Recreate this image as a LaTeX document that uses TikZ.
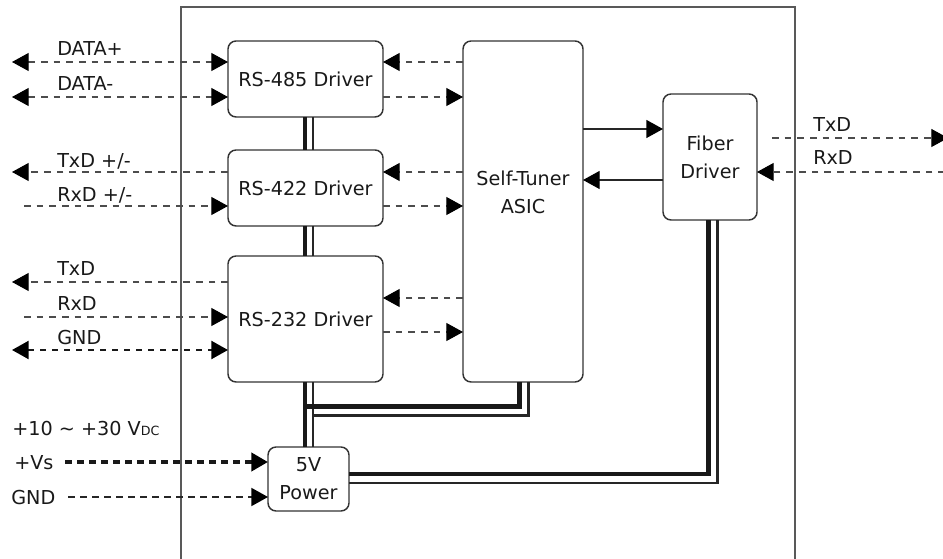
\documentclass[tikz,border=0pt]{standalone}
\usepackage{fontspec}
\setmainfont{DejaVu Sans}
\usetikzlibrary{arrows.meta}
\tikzset{
  bigT/.tip={Triangle[length=12.5pt,width=13.5pt,color=black]},
  box/.style={draw=black!80, line width=1.1pt, rounded corners=6pt, inner sep=0pt, outer sep=0pt, align=center, text=black!90},
  frame/.style={draw=black!65, line width=1.1pt},
  sig/.style={draw=black!70, line width=0.8pt, dash pattern=on 5pt off 4.5pt},
  sigmid/.style={draw=black!90, line width=1.7pt, dash pattern=on 4.5pt off 4.5pt},
  sigpow/.style={draw=black!90, line width=3pt, dash pattern=on 5pt off 4pt},
  siggnd/.style={draw=black!85, line width=1.4pt, dash pattern=on 5pt off 4pt},
  solidsig/.style={draw=black!85, line width=1pt},
  tr/.style={-bigT},
  tb/.style={bigT-bigT},
  pthick/.style={draw=black!90, line width=3.4pt, line join=miter},
  pthin/.style={draw=black!85, line width=1.6pt, line join=miter},
  lbl/.style={inner sep=0pt, text=black!90},
}
\begin{document}
\begin{tikzpicture}[x=0.75pt,y=-0.75pt,font=\fontsize{14.4}{21}\selectfont]
\useasboundingbox (0,0) rectangle (943,559);
% outer frame
\draw[frame] (181,565) -- (181,7) -- (795,7) -- (795,565);

% boxes
\node[box, minimum width=116.25pt, minimum height=57pt] (r485) at (305.5,79) {RS-485 Driver};
\node[box, minimum width=116.25pt, minimum height=57pt] (r422) at (305.5,188) {RS-422 Driver};
\node[box, minimum width=116.25pt, minimum height=94.5pt] (r232) at (305.5,319) {RS-232 Driver};
\node[box, minimum width=90pt, minimum height=255.75pt] (asic) at (523,211.5) {};
\node[lbl, align=center] (asictxt) at (523,192) {Self-Tuner\\ASIC};
\node[box, minimum width=70.5pt, minimum height=94.5pt] (fib) at (710,157) {Fiber\\Driver};
\node[box, minimum width=60.75pt, minimum height=48pt] (p5) at (308.5,479) {5V\\Power};

% coordinates
\coordinate (d1) at (12,62);
\coordinate (d2) at (12,97);
\coordinate (t4) at (12,172);
\coordinate (r4) at (24,206);
\coordinate (t2) at (12,282);
\coordinate (r2) at (24,317);
\coordinate (g2) at (12,350);
\coordinate (a1) at (0,298);
\coordinate (a2) at (0,332);
\coordinate (vs) at (65,462);
\coordinate (gp) at (68,497);
\coordinate (f1) at (0,129);
\coordinate (f2) at (0,180);
\coordinate (ts) at (772,138);
\coordinate (te) at (948,138);
\coordinate (rs) at (945,172);
\coordinate (bx1) at (305,0);
\coordinate (bx2) at (313,0);
\coordinate (hy1) at (0,406.5);
\coordinate (hy2) at (0,415.5);
\coordinate (cx1) at (519.5,0);
\coordinate (cx2) at (528.5,0);
\coordinate (hy3) at (0,474);
\coordinate (hy4) at (0,483);
\coordinate (cx3) at (708.5,0);
\coordinate (cx4) at (717.5,0);

% left signals
\draw[sig, tb] (d1) -- (d1 -| r485.west);
\draw[sig, tb] (d2) -- (d2 -| r485.west);
\draw[sig, tr] (r422.west |- t4) -- (t4);
\draw[sig, tr] (r4) -- (r4 -| r422.west);
\draw[sig, tr] (r232.west |- t2) -- (t2);
\draw[sig, tr] (r2) -- (r2 -| r232.west);
\draw[sigmid, tb] (g2) -- (g2 -| r232.west);
\draw[sigpow, tr] (vs) -- (vs -| p5.west);
\draw[siggnd, tr] (gp) -- (gp -| p5.west);

% ASIC <-> drivers
\draw[sig, tr] (asic.west |- d1) -- (r485.east |- d1);
\draw[sig, tr] (r485.east |- d2) -- (asic.west |- d2);
\draw[sig, tr] (asic.west |- t4) -- (r422.east |- t4);
\draw[sig, tr] (r422.east |- r4) -- (asic.west |- r4);
\draw[sig, tr] (asic.west |- a1) -- (r232.east |- a1);
\draw[sig, tr] (r232.east |- a2) -- (asic.west |- a2);

% ASIC <-> fiber
\draw[solidsig, tr] (asic.east |- f1) -- (fib.west |- f1);
\draw[solidsig, tr] (fib.west |- f2) -- (asic.east |- f2);

% fiber outside
\draw[sig, tr] (ts) -- (te);
\draw[sig, tr] (rs) -- (fib.east |- rs);

% power bus
\draw[pthin] (r485.south -| bx2) -- (r422.north -| bx2);
\draw[pthin] (r422.south -| bx2) -- (r232.north -| bx2);
\draw[pthin] (r232.south -| bx2) -- (p5.north -| bx2);
\draw[pthin] (bx2 |- hy2) -- (cx2 |- hy2) -- (asic.south -| cx2);
\draw[pthick] (r485.south -| bx1) -- (r422.north -| bx1);
\draw[pthick] (r422.south -| bx1) -- (r232.north -| bx1);
\draw[pthick] (r232.south -| bx1) -- (p5.north -| bx1);
\draw[pthick] (bx1 |- hy1) -- (cx1 |- hy1) -- (asic.south -| cx1);
\draw[pthin] (p5.east |- hy4) -- (cx4 |- hy4) -- (fib.south -| cx4);
\draw[pthick] (p5.east |- hy3) -- (cx3 |- hy3) -- (fib.south -| cx3);

% labels
\node[lbl, anchor=base west] (lDp) at (57,56) {DATA+};
\node[lbl, anchor=base west] (lDm) at (57,91) {DATA-};
\node[lbl, anchor=base west] (lT4) at (57,168) {TxD +/-};
\node[lbl, anchor=base west] (lR4) at (57,202) {RxD +/-};
\node[lbl, anchor=base west] (lT2) at (57,276) {TxD};
\node[lbl, anchor=base west] (lR2) at (57,311) {RxD};
\node[lbl, anchor=base west] (lG2) at (57,345) {GND};
\node[lbl, anchor=base west] (lV) at (12,436) {+10 \textasciitilde{} +30 V{\fontsize{9.5}{10}\selectfont DC}};
\node[lbl, anchor=base west] (lVs) at (14,470) {+Vs};
\node[lbl, anchor=base west] (lGp) at (11,505) {GND};
\node[lbl, anchor=base west] (lTf) at (813,132) {TxD};
\node[lbl, anchor=base west] (lRf) at (813,165) {RxD};
\end{tikzpicture}
\end{document}
